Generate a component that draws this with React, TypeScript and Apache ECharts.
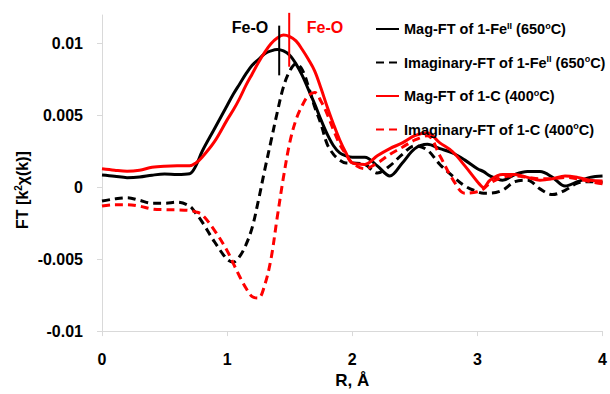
import React, { useEffect, useRef } from "react";
import * as echarts from "echarts";

const R = [
  0, 0.1, 0.2, 0.3, 0.4, 0.5, 0.6, 0.7, 0.75, 0.8, 0.9,
  1.0, 1.05, 1.1, 1.15, 1.2, 1.25, 1.3, 1.35, 1.4, 1.45, 1.5, 1.55, 1.6, 1.65, 1.7, 1.75, 1.8, 1.85, 1.9, 1.95, 2.0,
  2.1, 2.2, 2.3, 2.4, 2.5, 2.6, 2.7, 2.8, 2.9, 3.0, 3.05,
  3.1, 3.2, 3.3, 3.4, 3.5, 3.6, 3.7, 3.8, 3.9, 4.0,
];

// Mag-FT of 1-Fe(II) (650 °C)
const magFe = [
  0.00086, 0.00078, 0.00068, 0.00072, 0.00085, 0.00093, 0.0009, 0.00095, 0.0015, 0.0025, 0.0041,
  0.0057, 0.0065, 0.0072, 0.0079, 0.0085, 0.0089, 0.0093, 0.0095, 0.0096, 0.0095, 0.0092, 0.0086, 0.0078, 0.0068, 0.0058, 0.0047, 0.0037, 0.0029, 0.0024, 0.0022, 0.0021,
  0.0021, 0.0015, 0.0008, 0.0017, 0.0027, 0.003, 0.0027, 0.0024, 0.0019, 0.0013, 0.0011,
  0.0008, 0.0005, 0.0009, 0.0011, 0.0011, 0.0007, 0.0001, 0.0004, 0.0007, 0.0008,
];

// Imaginary-FT of 1-Fe(II) (650 °C)
const imFe = [
  -0.00095, -0.0008, -0.00072, -0.0009, -0.0011, -0.0011, -0.00103, -0.0013, -0.0018, -0.0024, -0.0038,
  -0.005, -0.0052, -0.0048, -0.004, -0.0028, -0.0009, 0.0012, 0.0032, 0.0052, 0.007, 0.0081, 0.0086, 0.0082, 0.007, 0.0056, 0.0044, 0.003, 0.0023, 0.0019, 0.0017, 0.0017,
  0.0016, 0.001, 0.0015, 0.0023, 0.0029, 0.0026, 0.0016, 0.0008, 0.0001, -0.0003, -0.0004,
  -0.0004, -0.0002, 0.0004, 0.0005, -0.0001, -0.0005, -0.0002, 0.0003, 0.0004, 0.00036,
];

// Mag-FT of 1-C (400 °C)
const magC = [
  0.0013, 0.0012, 0.00113, 0.0012, 0.0014, 0.00148, 0.0015, 0.0015, 0.0017, 0.0021, 0.0032,
  0.0047, 0.0054, 0.0062, 0.0071, 0.0079, 0.0087, 0.0094, 0.01, 0.0104, 0.0106, 0.0105, 0.0102, 0.0096, 0.0089, 0.0081, 0.0069, 0.0056, 0.0044, 0.0033, 0.0024, 0.0017,
  0.0016, 0.0022, 0.0027, 0.0031, 0.0036, 0.0038, 0.0031, 0.0025, 0.0015, 0.0004, 0.0,
  0.0005, 0.0009, 0.0009, 0.0007, 0.0005, 0.0006, 0.0008, 0.0007, 0.0005, 0.00045,
];

// Imaginary-FT of 1-C (400 °C)
const imC = [
  -0.0013, -0.0012, -0.0012, -0.0013, -0.0015, -0.00155, -0.00156, -0.0016, -0.0017, -0.0019, -0.003,
  -0.0044, -0.0053, -0.0062, -0.007, -0.0076, -0.0077, -0.0068, -0.005, -0.0021, 0.0007, 0.0031, 0.0047, 0.0057, 0.0064, 0.0066, 0.006, 0.0051, 0.004, 0.003, 0.0023, 0.0017,
  0.0013, 0.0017, 0.0023, 0.0028, 0.0033, 0.0036, 0.0022, 0.0006, -0.0004, -0.0003, -0.0001,
  0.0003, 0.0007, 0.0008, 0.0007, 0.0006, 0.0006, 0.0007, 0.0006, 0.0004, 0.00025,
];

const seriesNames = [
  "Mag-FT of 1-FeII (650oC)",
  "Imaginary-FT of 1-FeII (650oC)",
  "Mag-FT of 1-C (400oC)",
  "Imaginary-FT of 1-C (400oC)",
];
const legendLabels = [
  "Mag-FT of 1-Fe{sup|II} (650{sup|o}C)",
  "Imaginary-FT of 1-Fe{sup|II} (650{sup|o}C)",
  "Mag-FT of 1-C (400{sup|o}C)",
  "Imaginary-FT of 1-C (400{sup|o}C)",
];
const yTicks = [-0.01, -0.005, 0, 0.005, 0.01];
const feOBlack = [[1.416, 0.0078], [1.416, 0.01126]];
const feORed = [[1.496, 0.0084], [1.496, 0.01215]];

const FONT = "Liberation Sans";

export default function App() {
  const ref = useRef<HTMLDivElement>(null);
  useEffect(() => {
    if (!ref.current) return;
    const chart = echarts.init(ref.current, null, { renderer: "svg" });
    const pts = (arr: number[]) => R.map((r, i) => [r, arr[i]]);
    const mk = (name: string, data: number[], color: string, dashed: boolean) => ({
      name,
      type: "line",
      data: pts(data),
      smooth: 0.35,
      showSymbol: false,
      symbol: "none",
      lineStyle: { color, width: 3, type: dashed ? [8, 5] : "solid" },
      itemStyle: { color },
    });
    const supStyle = { fontSize: 9, fontWeight: "bold", fontFamily: FONT, color: "#000", padding: [0, 0, 7, 0] };
    chart.setOption({
      animation: false,
      grid: { left: 102, right: 5, top: 15, bottom: 54 },
      legend: {
        data: seriesNames,
        orient: "vertical",
        left: 370,
        top: 16,
        itemWidth: 23,
        itemHeight: 14,
        itemGap: 18,
        itemStyle: { opacity: 0 },
        textStyle: {
          fontFamily: FONT,
          fontWeight: "bold",
          fontSize: 14.5,
          color: "#000",
          rich: { sup: supStyle },
        },
        formatter: (n: string) => legendLabels[seriesNames.indexOf(n)],
      },
      xAxis: {
        type: "value",
        min: 0,
        max: 4,
        interval: 1,
        name: "R, Å",
        nameLocation: "middle",
        nameGap: 38,
        nameTextStyle: { fontFamily: FONT, fontWeight: "bold", fontSize: 17, color: "#000" },
        axisLine: { show: true, onZero: false, lineStyle: { color: "#d9d9d9", width: 1 } },
        axisTick: { show: true, length: 5, lineStyle: { color: "#d9d9d9" } },
        axisLabel: { fontFamily: FONT, fontWeight: "bold", fontSize: 16, color: "#000", margin: 20 },
        splitLine: { show: false },
      },
      yAxis: {
        type: "value",
        min: -0.01,
        max: 0.012,
        interval: 0.005,
        axisLine: { show: true, lineStyle: { color: "#d9d9d9", width: 1 } },
        axisTick: { show: true, length: 5, lineStyle: { color: "#d9d9d9" }, customValues: yTicks },
        axisLabel: {
          fontFamily: FONT,
          fontWeight: "bold",
          fontSize: 16,
          color: "#000",
          margin: 19,
          customValues: yTicks,
          formatter: (v: number) => String(v),
        },
        splitLine: { show: false },
      },
      series: [
        mk(seriesNames[0], magFe, "#000000", false),
        mk(seriesNames[1], imFe, "#000000", true),
        mk(seriesNames[2], magC, "#ff0000", false),
        mk(seriesNames[3], imC, "#ff0000", true),
        {
          name: "Fe-O black",
          type: "line",
          data: feOBlack,
          symbol: "none",
          clip: false,
          silent: true,
          lineStyle: { color: "#000", width: 2 },
        },
        {
          name: "Fe-O red",
          type: "line",
          data: feORed,
          symbol: "none",
          clip: false,
          silent: true,
          lineStyle: { color: "#ff0000", width: 2 },
        },
      ],
      graphic: [
        {
          type: "text",
          x: 250,
          y: 27,
          style: { text: "Fe-O", fill: "#000", font: `bold 16px "${FONT}"`, align: "center", verticalAlign: "middle" },
        },
        {
          type: "text",
          x: 325,
          y: 27,
          style: { text: "Fe-O", fill: "#ff0000", font: `bold 16px "${FONT}"`, align: "center", verticalAlign: "middle" },
        },
        {
          type: "text",
          x: 22,
          y: 190,
          rotation: Math.PI / 2,
          style: {
            text: "FT [k{sup|2}χ(k)]",
            fill: "#000",
            font: `bold 16px "${FONT}"`,
            align: "center",
            verticalAlign: "middle",
            rich: { sup: { fontSize: 10, fontWeight: "bold", fontFamily: FONT, fill: "#000", padding: [0, 0, 8, 0] } },
          },
        },
      ],
    });
    return () => chart.dispose();
  }, []);
  return <div ref={ref} style={{ position: "absolute", left: 0, top: 0, width: 610, height: 394 }} />;
}
